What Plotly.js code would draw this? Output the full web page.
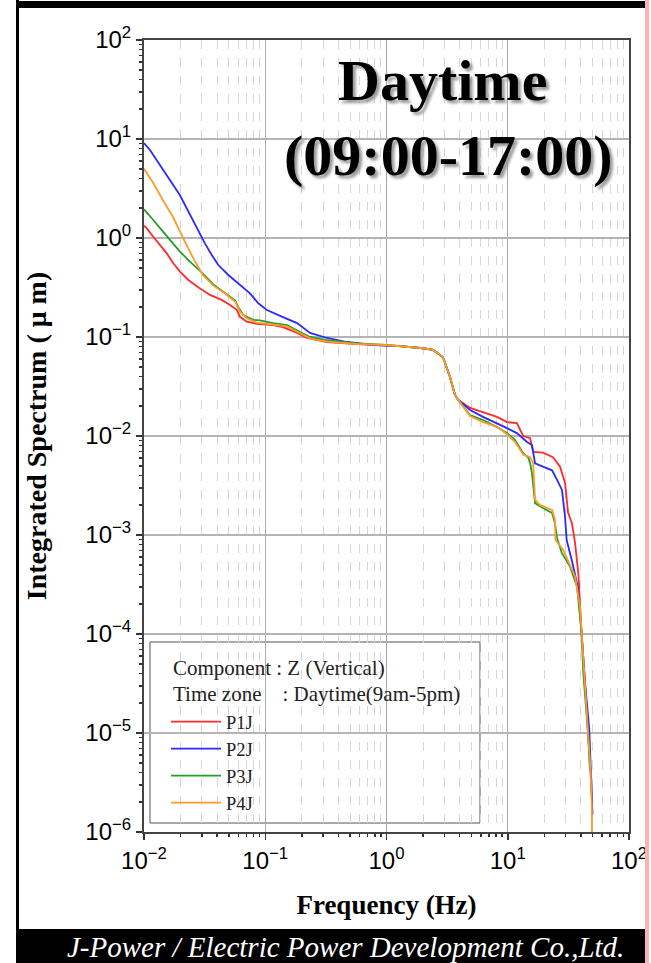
<!DOCTYPE html>
<html>
<head>
<meta charset="utf-8">
<script src="https://cdn.plot.ly/plotly-3.0.1.min.js"></script>
<style>
html,body{margin:0;padding:0;background:#fff;}
#chart{width:651px;height:963px;}
</style>
</head>
<body>
<div id="chart"></div>
<script>
// ---- data ----
const seriesNames = ['P1J', 'P2J', 'P3J', 'P4J'];

const p1jFreq = [0.01, 0.01038, 0.01193, 0.01355, 0.0154, 0.01744, 0.0198, 0.0232, 0.028, 0.035, 0.0437, 0.0512, 0.0582, 0.0619, 0.0703, 0.0848, 0.116, 0.14, 0.183, 0.221, 0.323, 0.571, 1.0, 1.29, 2.0, 2.42, 2.92, 3.34, 3.67, 3.89, 4.89, 6.25, 8.15, 9.86, 11.9, 13.4, 15.3, 16.2, 19.5, 23.6, 27.0, 29.7, 31.4, 33.9, 35.9, 38.2, 39.4, 40.7, 43.4, 45.9, 48.6, 49.8];
const p1jVal  = [1.33, 1.28, 1.03, 0.85, 0.70, 0.555, 0.457, 0.377, 0.318, 0.266, 0.237, 0.211, 0.188, 0.160, 0.143, 0.136, 0.132, 0.126, 0.110, 0.098, 0.089, 0.085, 0.083, 0.081, 0.077, 0.074, 0.0628, 0.0394, 0.026, 0.0233, 0.0192, 0.0175, 0.0156, 0.0138, 0.0135, 0.0100, 0.0095, 0.0069, 0.0068, 0.0061, 0.0049, 0.00335, 0.0017, 0.0013, 0.00083, 0.00041, 0.00019, 0.0001, 3.2e-5, 1.05e-5, 4e-6, 2e-6];

const p2jFreq = [0.01, 0.0112, 0.0198, 0.0239, 0.028, 0.0318, 0.0362, 0.041, 0.0496, 0.06, 0.0748, 0.0877, 0.1033, 0.14, 0.183, 0.234, 0.323, 0.472, 0.774, 1.29, 2.0, 2.42, 2.92, 3.34, 3.67, 3.89, 4.89, 6.25, 8.15, 9.86, 11.9, 14.4, 15.85, 16.8, 19.5, 23.2, 25.5, 28.0, 29.7, 30.6, 33.7, 37.8, 40.7, 43.4, 47.0, 48.6, 50.0];
const p2jVal  = [9.1, 7.74, 2.7, 1.71, 1.2, 0.883, 0.673, 0.533, 0.423, 0.348, 0.276, 0.219, 0.187, 0.159, 0.138, 0.110, 0.0977, 0.089, 0.083, 0.081, 0.077, 0.074, 0.0628, 0.0394, 0.026, 0.0233, 0.0183, 0.0156, 0.0135, 0.012, 0.0107, 0.0087, 0.0081, 0.0053, 0.0049, 0.0045, 0.0036, 0.00285, 0.00152, 0.00089, 0.00056, 0.0003, 0.0001, 3.2e-5, 1.1e-5, 4e-6, 1.5e-6];

const p3jFreq = [0.01, 0.01038, 0.01193, 0.014, 0.01638, 0.0198, 0.0239, 0.0299, 0.0373, 0.0466, 0.0563, 0.06, 0.0658, 0.0798, 0.0903, 0.116, 0.151, 0.194, 0.234, 0.323, 0.571, 1.0, 1.29, 2.0, 2.42, 2.92, 3.34, 3.67, 3.89, 4.89, 6.25, 8.15, 9.86, 11.5, 13.4, 14.7, 15.3, 15.85, 16.8, 19.5, 23.2, 24.5, 25.5, 27.9, 32.6, 37.3, 40.7, 42.0, 45.9, 47.6];
const p3jVal  = [1.95, 1.84, 1.52, 1.2, 0.955, 0.728, 0.577, 0.45, 0.34, 0.28, 0.235, 0.2, 0.167, 0.149, 0.147, 0.138, 0.132, 0.112, 0.100, 0.093, 0.086, 0.083, 0.081, 0.077, 0.074, 0.0628, 0.0394, 0.026, 0.0233, 0.0163, 0.0145, 0.0123, 0.0107, 0.0091, 0.0067, 0.0061, 0.0053, 0.0042, 0.0021, 0.00187, 0.00167, 0.00132, 0.00093, 0.00066, 0.00048, 0.0003, 0.0001, 4e-5, 1e-5, 4.2e-6];

const p4jFreq = [0.01, 0.012, 0.0143, 0.01735, 0.021, 0.0254, 0.0307, 0.0373, 0.0466, 0.0563, 0.0619, 0.0703, 0.0848, 0.116, 0.151, 0.194, 0.234, 0.323, 0.571, 1.0, 1.29, 2.0, 2.42, 2.92, 3.34, 3.67, 3.89, 4.89, 6.25, 8.15, 9.86, 11.5, 13.4, 15.3, 16.2, 16.8, 18.5, 23.2, 24.5, 24.8, 28.6, 30.6, 35.9, 39.4, 40.7, 43.4, 45.9, 48.3, 49.4, 49.6];
const p4jVal  = [5.0, 3.55, 2.42, 1.63, 1.0, 0.63, 0.42, 0.33, 0.275, 0.228, 0.18, 0.155, 0.14, 0.134, 0.128, 0.109, 0.097, 0.090, 0.085, 0.083, 0.081, 0.077, 0.074, 0.0628, 0.0394, 0.026, 0.0233, 0.0159, 0.0138, 0.0124, 0.0104, 0.0087, 0.0065, 0.0061, 0.0053, 0.00226, 0.002, 0.00179, 0.00142, 0.00089, 0.00071, 0.00059, 0.00038, 0.00019, 0.0001, 3.2e-5, 1e-5, 3.9e-6, 1.8e-6, 7e-7];

const xTickVals = [0.01, 0.1, 1, 10, 100];
const xTickText = ['10<sup>\u22122</sup>', '10<sup>\u22121</sup>', '10<sup>0</sup>', '10<sup>1</sup>', '10<sup>2</sup>'];
const yTickVals = [1e-6, 1e-5, 1e-4, 1e-3, 1e-2, 1e-1, 1, 10, 100];
const yTickText = ['10<sup>\u22126</sup>', '10<sup>\u22125</sup>', '10<sup>\u22124</sup>', '10<sup>\u22123</sup>', '10<sup>\u22122</sup>', '10<sup>\u22121</sup>', '10<sup>0</sup>', '10<sup>1</sup>', '10<sup>2</sup>'];

const titleLine1 = 'Daytime';
const titleLine2 = '(09:00-17:00)';
const legendLine1 = 'Component : Z (Vertical)';
const legendLine2 = 'Time zone\u00a0\u00a0\u00a0\u00a0: Daytime(9am-5pm)';
const xTitle = 'Frequency (Hz)';
const yTitle = 'Integrated Spectrum ( \u03bc m)';
const footerText = 'J-Power / Electric Power Development Co.,Ltd.';

// ---- styles ----
const colors = ['#ff2a2a', '#2a2aff', '#22a022', '#ff9a2a'];
const serif = 'Liberation Serif, Times New Roman, serif';
const sans = 'Liberation Sans, Arial, sans-serif';

function minorVals(lo, hi) {
  const v = [];
  for (let e = lo; e < hi; e++) for (let d = 2; d <= 9; d++) v.push(d * Math.pow(10, e));
  return v;
}

const freqs = [p1jFreq, p2jFreq, p3jFreq, p4jFreq];
const vals = [p1jVal, p2jVal, p3jVal, p4jVal];
const traces = seriesNames.map((n, i) => ({
  type: 'scatter', mode: 'lines', name: n,
  x: freqs[i], y: vals[i],
  line: {color: colors[i], width: 1.8}
}));

// paper coordinate helpers for frame decorations (plot area: x 144..629, y 40..832)
const W = 651, H = 963, L = 144, R = 629, T = 40, B = 832;
const px = v => (v - L) / (R - L);
const py = v => (B - v) / (B - T);

const layout = {
  width: W, height: H,
  margin: {l: L, r: W - R, t: T, b: H - B},
  paper_bgcolor: '#fff', plot_bgcolor: '#fff',
  showlegend: true,
  font: {family: serif, color: '#000'},
  xaxis: {
    type: 'log', range: [-2, 2],
    tickmode: 'array', tickvals: xTickVals, ticktext: xTickText,
    tickfont: {family: sans, size: 24, color: '#000'},
    ticks: 'outside', ticklen: 6, tickcolor: '#333', tickwidth: 1.5,
    showline: true, linecolor: '#444', linewidth: 2, mirror: true,
    showgrid: true, gridcolor: '#a8a8a8', gridwidth: 1,
    zeroline: false,
    minor: {tickmode: 'array', tickvals: minorVals(-2, 2), ticks: 'outside', ticklen: 3, tickcolor: '#333',
            showgrid: true, gridcolor: '#d6d6d6', griddash: 'dash', gridwidth: 1},
    title: {text: xTitle, font: {family: serif, size: 27, weight: 'bold', color: '#000'}, standoff: 22}
  },
  yaxis: {
    type: 'log', range: [-6, 2],
    tickmode: 'array', tickvals: yTickVals, ticktext: yTickText,
    tickfont: {family: sans, size: 24, color: '#000'},
    ticks: 'outside', ticklen: 6, tickcolor: '#333', tickwidth: 1.5,
    showline: true, linecolor: '#444', linewidth: 2, mirror: true,
    showgrid: true, gridcolor: '#b4b4b4', gridwidth: 1.2,
    zeroline: false,
    minor: {tickmode: 'array', tickvals: minorVals(-6, 2), ticks: 'outside', ticklen: 3, tickcolor: '#333', showgrid: false},
    title: {text: yTitle, font: {family: serif, size: 28, weight: 'bold', color: '#000'}, standoff: 31}
  },
  legend: {
    x: px(166), y: py(703), xanchor: 'left', yanchor: 'top',
    bgcolor: 'rgba(0,0,0,0)', borderwidth: 0,
    font: {family: serif, size: 18.5, color: '#222'},
    tracegroupgap: 0, itemwidth: 50
  },
  shapes: [
    {type: 'rect', xref: 'paper', yref: 'paper', x0: px(150), x1: px(480), y0: py(642), y1: py(823), fillcolor: '#fff', line: {color: '#555', width: 1}, layer: 'between'},
    {type: 'rect', xref: 'paper', yref: 'paper', x0: px(17), x1: px(645), y0: py(1), y1: py(8), fillcolor: '#000', line: {width: 0}, layer: 'above'},
    {type: 'rect', xref: 'paper', yref: 'paper', x0: px(16), x1: px(19), y0: py(0), y1: py(963), fillcolor: '#000', line: {width: 0}, layer: 'above'},
    {type: 'rect', xref: 'paper', yref: 'paper', x0: px(16), x1: px(645), y0: py(929), y1: py(963), fillcolor: '#000', line: {width: 0}, layer: 'above'},
    {type: 'rect', xref: 'paper', yref: 'paper', x0: px(645), x1: px(649), y0: py(0), y1: py(963), fillcolor: '#ffb0b0', line: {width: 0}, layer: 'above'}
  ],
  annotations: [
    {xref: 'paper', yref: 'paper', x: px(442), y: py(80), text: titleLine1, showarrow: false,
     xanchor: 'center', yanchor: 'middle',
     font: {family: serif, size: 58, weight: 'bold', color: '#000', shadow: '3px 3px 3px #999'}},
    {xref: 'paper', yref: 'paper', x: px(448), y: py(155), text: titleLine2, showarrow: false,
     xanchor: 'center', yanchor: 'middle',
     font: {family: serif, size: 58, weight: 'bold', color: '#000', shadow: '3px 3px 3px #999'}},
    {xref: 'paper', yref: 'paper', x: px(171), y: py(668), text: legendLine1, showarrow: false,
     xanchor: 'left', yanchor: 'middle', font: {family: serif, size: 21, color: '#222'}},
    {xref: 'paper', yref: 'paper', x: px(171), y: py(694), text: legendLine2, showarrow: false,
     xanchor: 'left', yanchor: 'middle', font: {family: serif, size: 21, color: '#222'}},
    {xref: 'paper', yref: 'paper', x: px(345), y: py(947), text: footerText, showarrow: false,
     xanchor: 'center', yanchor: 'middle',
     font: {family: serif, size: 29, style: 'italic', color: '#fff'}}
  ]
};

Plotly.newPlot('chart', traces, layout, {displayModeBar: false, staticPlot: true});
</script>
</body>
</html>
